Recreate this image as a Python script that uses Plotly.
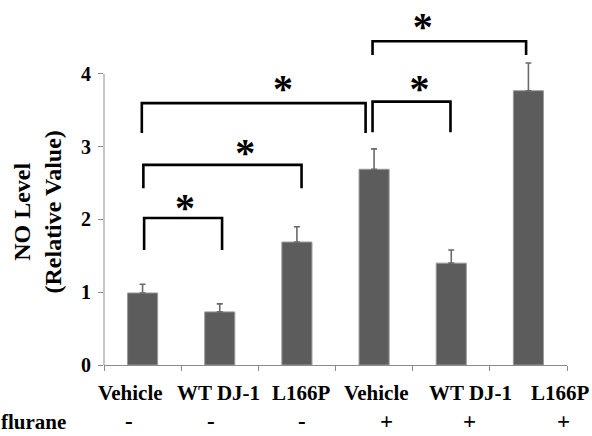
import plotly.graph_objects as go

# ---- data ----
categories = ["Vehicle", "WT DJ-1", "L166P", "Vehicle", "WT DJ-1", "L166P"]
treatment = ["-", "-", "-", "+", "+", "+"]
no_level = [0.99, 0.73, 1.69, 2.69, 1.40, 3.77]
no_err = [0.12, 0.11, 0.21, 0.28, 0.18, 0.38]
y_ticks = [0, 1, 2, 3, 4]

# significance brackets (category index based)
br_left = [0.02, 0.01, -0.01, 2.98, 2.98]
br_right = [1.03, 2.06, 2.89, 3.99, 4.97]
br_top = [2.02, 2.75, 3.60, 3.62, 4.45]
br_bottom = [1.58, 2.43, 3.19, 3.20, 4.26]
star_x = [0.55, 1.33, 1.82, 3.59, 3.63]
star_y = [2.24, 3.00, 3.88, 3.88, 4.74]

# label positions (category units) as in the original figure
label_x = [-0.16, 0.99, 2.06, 3.03, 4.25, 5.41]
sign_x = [-0.18, 0.89, 2.06, 3.16, 4.24, 5.45]

FONT = "Liberation Serif"
x = list(range(len(categories)))

fig = go.Figure()
fig.add_trace(go.Bar(
    x=x, y=no_level, width=0.39,
    marker=dict(color="#5c5c5c", line=dict(color="#9a9a9a", width=1)),
    error_y=dict(type="data", array=no_err, arrayminus=[0]*len(no_err),
                 symmetric=False, color="#6a6a6a", thickness=1.6, width=3),
    showlegend=False, hoverinfo="skip",
))

for l, r, t, b in zip(br_left, br_right, br_top, br_bottom):
    fig.add_trace(go.Scatter(
        x=[l, l, r, r], y=[b, t, t, b], mode="lines",
        line=dict(color="black", width=2.6), showlegend=False,
        hoverinfo="skip", cliponaxis=False,
    ))

# asterisks (glyph sits high in its box, shift anchor downward)
star_shift = 0.13
fig.add_trace(go.Scatter(
    x=star_x, y=[v - star_shift for v in star_y], mode="text", text=["<b>*</b>"]*len(star_x),
    textfont=dict(family=FONT, size=40, color="black"),
    textposition="middle center", showlegend=False, hoverinfo="skip",
    cliponaxis=False,
))

# y axis line only from 0 to 4
fig.add_shape(type="line", xref="paper", yref="y", x0=0, x1=0,
              y0=y_ticks[0], y1=y_ticks[-1], line=dict(color="#8c8c8c", width=1))

bottom_y = -0.195
annotations = []
for cx, lab in zip(label_x, categories):
    annotations.append(dict(x=cx, xref="x", y=-0.078, yref="paper", text=f"<b>{lab}</b>",
                            showarrow=False, xanchor="center", yanchor="middle",
                            font=dict(family=FONT, size=21, color="black")))
for cx, s in zip(sign_x, treatment):
    annotations.append(dict(x=cx, xref="x", y=bottom_y, yref="paper", text=f"<b>{s}</b>",
                            showarrow=False, xanchor="center", yanchor="bottom",
                            borderpad=0,
                            font=dict(family=FONT, size=23, color="black")))
annotations.append(dict(x=-0.2246, xref="paper", y=bottom_y, yref="paper", text="<b>flurane</b>",
                        showarrow=False, xanchor="left", yanchor="bottom", borderpad=0,
                        font=dict(family=FONT, size=21, color="black")))
annotations.append(dict(x=-0.1436, xref="paper", y=0.425, yref="paper",
                        text="<b>NO Level</b><br><b>(Relative Value)</b>", textangle=-90,
                        showarrow=False, xanchor="center", yanchor="middle",
                        font=dict(family=FONT, size=24, color="black")))

fig.update_layout(
    width=592, height=436,
    margin=dict(l=104, r=25, t=5, b=71),
    paper_bgcolor="white", plot_bgcolor="white",
    bargap=0.6,
    annotations=annotations,
    xaxis=dict(range=[-0.5, 5.5], showgrid=False, zeroline=False,
               showline=True, linecolor="#8c8c8c", linewidth=1,
               tickmode="array", tickvals=[i - 0.5 for i in range(len(categories) + 1)],
               ticks="outside", ticklen=5, tickcolor="#8c8c8c", showticklabels=False),
    yaxis=dict(range=[0, 4.948], showgrid=False, zeroline=False, showline=False,
               tickmode="array", tickvals=y_ticks, ticktext=[f"<b>{v}</b>" for v in y_ticks],
               ticks="outside", ticklen=5, tickcolor="#8c8c8c", ticklabelstandoff=3,
               tickfont=dict(family=FONT, size=20, color="black")),
)

fig.write_html("out.html")
